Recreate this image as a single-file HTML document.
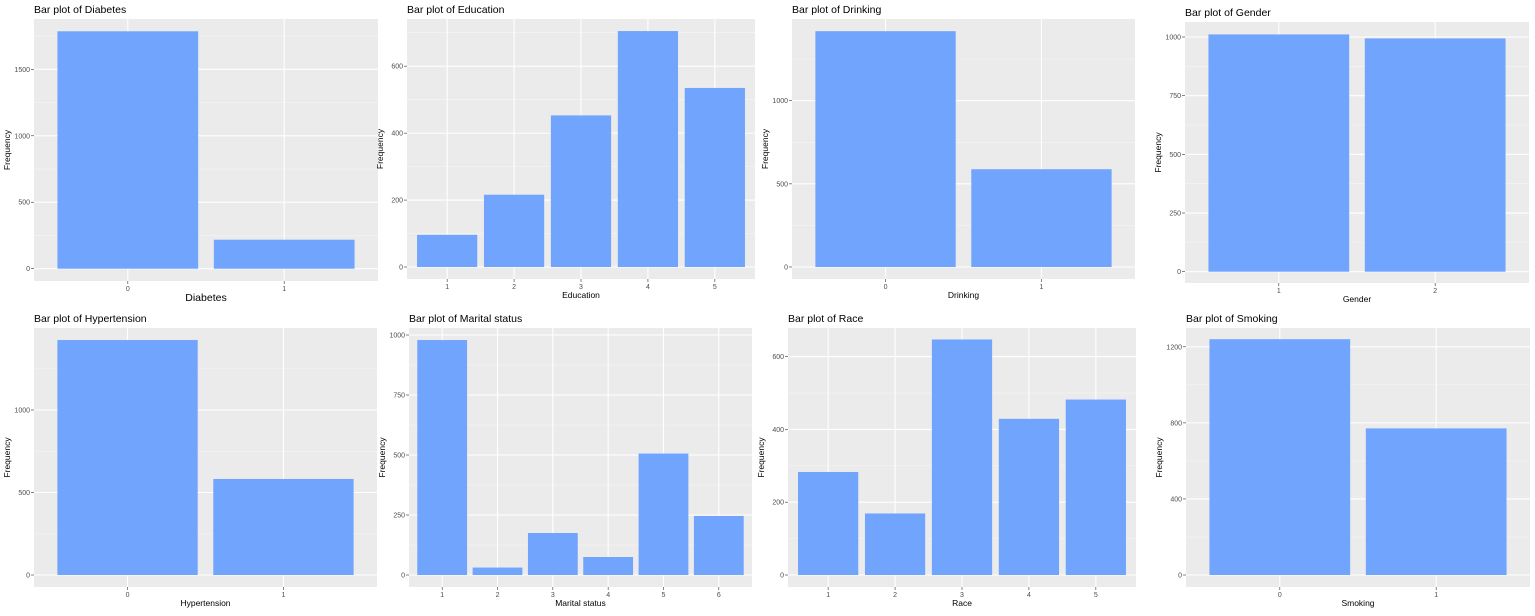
<!DOCTYPE html>
<html><head><meta charset="utf-8">
<style>
html,body{margin:0;padding:0;background:#fff;}
svg{display:block;font-family:"Liberation Sans",Arial,sans-serif;}
</style></head>
<body>
<svg id="chart" width="1535" height="616" viewBox="0 0 1535 616" xmlns="http://www.w3.org/2000/svg"></svg>
<script>
// ---- data ----
const diabetesCats = ["0","1"];
const diabetesVals = [1786, 218];
const educationCats = ["1","2","3","4","5"];
const educationVals = [96, 216, 453, 705, 535];
const drinkingCats = ["0","1"];
const drinkingVals = [1418, 588];
const genderCats = ["1","2"];
const genderVals = [1011, 994];
const hypertensionCats = ["0","1"];
const hypertensionVals = [1424, 582];
const maritalCats = ["1","2","3","4","5","6"];
const maritalVals = [979, 31, 175, 75, 506, 246];
const raceCats = ["1","2","3","4","5"];
const raceVals = [283, 169, 647, 429, 482];
const smokingCats = ["0","1"];
const smokingVals = [1240, 771];
const diabetesTicks = [0, 500, 1000, 1500];
const educationTicks = [0, 200, 400, 600];
const drinkingTicks = [0, 500, 1000];
const genderTicks = [0, 250, 500, 750, 1000];
const hypertensionTicks = [0, 500, 1000];
const maritalTicks = [0, 250, 500, 750, 1000];
const raceTicks = [0, 200, 400, 600];
const smokingTicks = [0, 400, 800, 1200];

const NS = "http://www.w3.org/2000/svg";
const svg = document.getElementById("chart");
function mk(tag, attrs, parent){
  const e = document.createElementNS(NS, tag);
  for (const k in attrs) e.setAttribute(k, attrs[k]);
  (parent||svg).appendChild(e);
  return e;
}

// layout: plot rect + y mapping (zero pixel, ref tick value & pixel)
const panels = [
  {name:"diabetes", title:"Diabetes", cats:diabetesCats, vals:diabetesVals, ticks:diabetesTicks, x0:34, x1:378, top:19, bot:281, zeroY:268.7, refV:1500, refY:69.3, big:true},
  {name:"education", title:"Education", cats:educationCats, vals:educationVals, ticks:educationTicks, x0:407, x1:755, top:19, bot:279, zeroY:267, refV:600, refY:66.2},
  {name:"drinking", title:"Drinking", cats:drinkingCats, vals:drinkingVals, ticks:drinkingTicks, x0:792, x1:1135, top:19, bot:279, zeroY:267, refV:1000, refY:100.7},
  {name:"gender", title:"Gender", cats:genderCats, vals:genderVals, ticks:genderTicks, x0:1185, x1:1529, top:22, bot:283, zeroY:271.7, refV:1000, refY:37},
  {name:"hypertension", title:"Hypertension", cats:hypertensionCats, vals:hypertensionVals, ticks:hypertensionTicks, x0:34, x1:377, top:328, bot:587, zeroY:575, refV:1000, refY:410},
  {name:"marital-status", title:"Marital status", cats:maritalCats, vals:maritalVals, ticks:maritalTicks, x0:409, x1:752, top:328, bot:587, zeroY:575, refV:1000, refY:335},
  {name:"race", title:"Race", cats:raceCats, vals:raceVals, ticks:raceTicks, x0:788, x1:1136, top:328, bot:587, zeroY:575, refV:600, refY:356.6},
  {name:"smoking", title:"Smoking", cats:smokingCats, vals:smokingVals, ticks:smokingTicks, x0:1186, x1:1530, top:328, bot:587, zeroY:575, refV:1200, refY:346.8}
];

panels.forEach(p => {
  const g = mk("g", {});
  
  
  const k = (p.zeroY - p.refY) / p.refV;
  const y = v => p.zeroY - v * k;
  const n = p.cats.length;
  const unit = (p.x1 - p.x0) / (n + 0.2);
  const xc = i => p.x0 + (i + 0.6) * unit;

  const bg = mk("rect", {x:p.x0, y:p.top, width:p.x1-p.x0, height:p.bot-p.top, fill:"#ebebeb"}, g);
  
  

  const step = p.ticks[1] - p.ticks[0];
  // minor grid
  for (let v = -step/2; y(v) >= p.top; v += step) {
    if (y(v) > p.bot) continue;
    const l = mk("line", {x1:p.x0, x2:p.x1, y1:y(v), y2:y(v), stroke:"#f5f5f5", "stroke-width":0.6}, g);
    
    
  }
  // major grid + y ticks
  p.ticks.forEach(t => {
    const l = mk("line", {x1:p.x0, x2:p.x1, y1:y(t), y2:y(t), stroke:"#fff", "stroke-width":1.1}, g);
    
    
    const tm = mk("line", {x1:p.x0-3, x2:p.x0, y1:y(t), y2:y(t), stroke:"#333", "stroke-width":0.6}, g);
    
    
    const tx = mk("text", {x:p.x0-4, y:y(t)+2.5, "text-anchor":"end", "font-size":7, fill:"#4d4d4d"}, g);
    tx.textContent = t;
    
    
  });
  // vertical grid + x ticks
  p.cats.forEach((c, i) => {
    const l = mk("line", {x1:xc(i), x2:xc(i), y1:p.top, y2:p.bot, stroke:"#fff", "stroke-width":1.1}, g);
    
    
    const tm = mk("line", {x1:xc(i), x2:xc(i), y1:p.bot, y2:p.bot+3, stroke:"#333", "stroke-width":0.6}, g);
    
    
    const tx = mk("text", {x:xc(i), y:p.bot+10, "text-anchor":"middle", "font-size":7, fill:"#4d4d4d"}, g);
    tx.textContent = c;
    
    
  });
  // bars
  p.vals.forEach((v, i) => {
    const w = unit * 0.9;
    const b = mk("rect", {x:xc(i)-w/2, y:y(v), width:w, height:p.zeroY-y(v), fill:"#70a4fd"}, g);
    
    
  });
  // titles
  const tt = mk("text", {x:p.x0, y:p.top-6, "font-size":10.5, fill:"#000"}, g);
  tt.textContent = "Bar plot of " + p.title;
  
  
  const xt = mk("text", {x:(p.x0+p.x1)/2, y:p.bot + (p.big ? 20 : 19), "text-anchor":"middle", "font-size":p.big ? 10.5 : 8.5, fill:"#000"}, g);
  xt.textContent = p.title;
  
  
  const cy = (p.top + p.bot) / 2;
  const yx = p.x0 - 24;
  const yt = mk("text", {x:yx, y:cy, "text-anchor":"middle", "font-size":8.5, fill:"#000", transform:`rotate(-90 ${yx} ${cy})`}, g);
  yt.textContent = "Frequency";
  
  
});
</script>
</body></html>
